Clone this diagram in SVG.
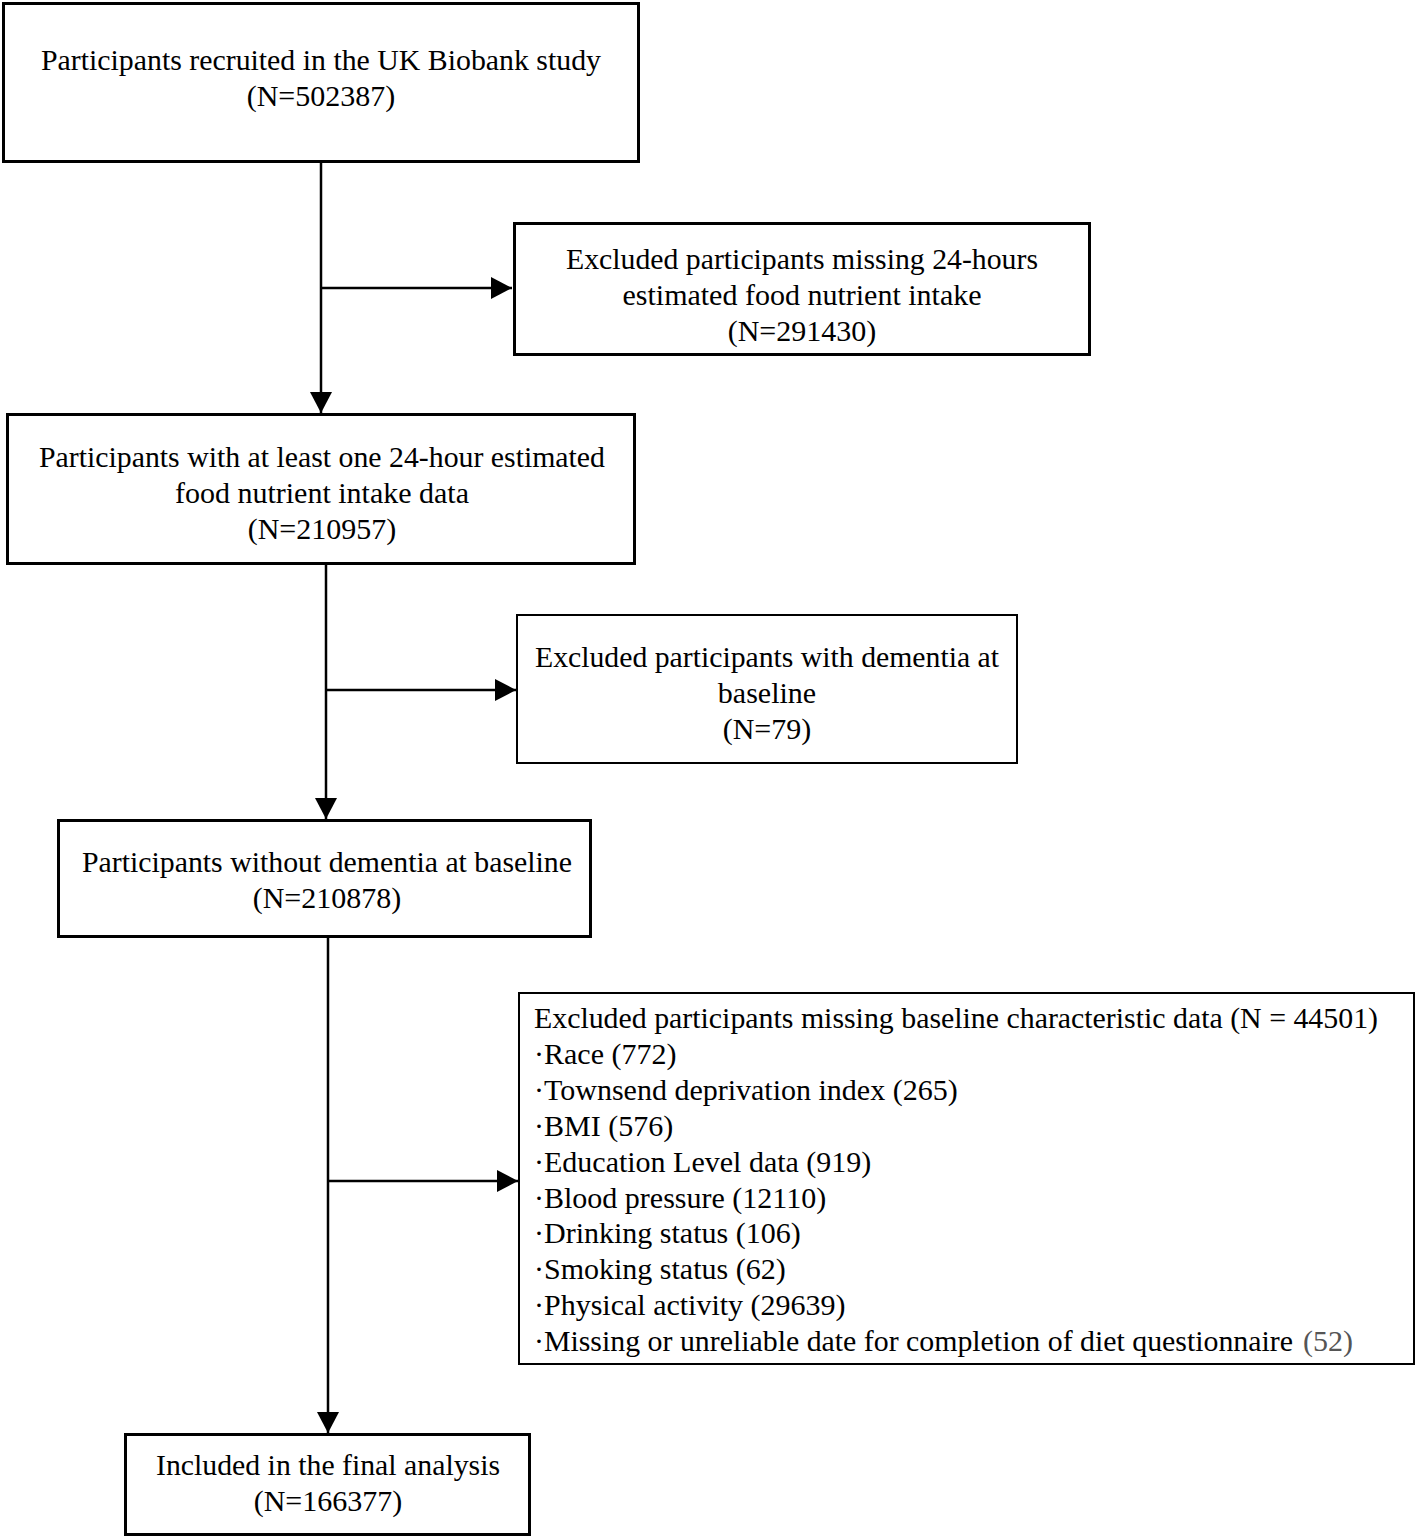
<svg xmlns="http://www.w3.org/2000/svg" width="1416" height="1539" viewBox="0 0 1416 1539">
<style>
.box{fill:#fff;stroke:#000;stroke-width:3}
.thin{stroke-width:2}
.t{font-family:"Liberation Serif","Times New Roman",serif;font-size:30px;fill:#000}
.c{text-anchor:middle}
.ln{stroke:#000;stroke-width:2.5;fill:none}
</style>
<defs>
<marker id="ah" viewBox="0 0 10 10" refX="10" refY="5" markerWidth="21" markerHeight="22" markerUnits="userSpaceOnUse" orient="auto" preserveAspectRatio="none">
<path d="M0,0 L10,5 L0,10 Z" fill="#000"/>
</marker>
</defs>
<rect width="1416" height="1539" fill="#fff"/>
<g id="connectors">
<line class="ln" x1="321" y1="162" x2="321" y2="413" marker-end="url(#ah)"/>
<line class="ln" x1="321" y1="288" x2="512" y2="288" marker-end="url(#ah)"/>
<line class="ln" x1="326" y1="564" x2="326" y2="819" marker-end="url(#ah)"/>
<line class="ln" x1="326" y1="690" x2="516" y2="690" marker-end="url(#ah)"/>
<line class="ln" x1="328" y1="937" x2="328" y2="1433" marker-end="url(#ah)"/>
<line class="ln" x1="328" y1="1181" x2="518" y2="1181" marker-end="url(#ah)"/>
</g>
<g id="n1">
<rect class="box" x="3.5" y="3.5" width="635" height="158"/>
<text class="t c" x="321" y="70" textLength="560" lengthAdjust="spacingAndGlyphs">Participants recruited in the UK Biobank study</text>
<text class="t c" x="321" y="106">(N=502387)</text>
</g>
<g id="n2">
<rect class="box" x="514.5" y="223.5" width="575" height="131"/>
<text class="t c" x="802" y="269" textLength="472" lengthAdjust="spacingAndGlyphs">Excluded participants missing 24-hours</text>
<text class="t c" x="802" y="305">estimated food nutrient intake</text>
<text class="t c" x="802" y="341">(N=291430)</text>
</g>
<g id="n3">
<rect class="box" x="7.5" y="414.5" width="627" height="149"/>
<text class="t c" x="322" y="467" textLength="566" lengthAdjust="spacingAndGlyphs">Participants with at least one 24-hour estimated</text>
<text class="t c" x="322" y="503">food nutrient intake data</text>
<text class="t c" x="322" y="539">(N=210957)</text>
</g>
<g id="n4">
<rect class="box thin" x="517" y="615" width="500" height="148"/>
<text class="t c" x="767" y="667" textLength="464" lengthAdjust="spacingAndGlyphs">Excluded participants with dementia at</text>
<text class="t c" x="767" y="703">baseline</text>
<text class="t c" x="767" y="739">(N=79)</text>
</g>
<g id="n5">
<rect class="box" x="58.5" y="820.5" width="532" height="116"/>
<text class="t c" x="327" y="872" textLength="490" lengthAdjust="spacingAndGlyphs">Participants without dementia at baseline</text>
<text class="t c" x="327" y="908">(N=210878)</text>
</g>
<g id="n6">
<rect class="box thin" x="519" y="993" width="895" height="371"/>
<text class="t" x="534" y="1028" textLength="844" lengthAdjust="spacingAndGlyphs">Excluded participants missing baseline characteristic data (N = 44501)</text>
<text class="t" x="534" y="1064">·Race (772)</text>
<text class="t" x="534" y="1100">·Townsend deprivation index (265)</text>
<text class="t" x="534" y="1136">·BMI (576)</text>
<text class="t" x="534" y="1172">·Education Level data (919)</text>
<text class="t" x="534" y="1208">·Blood pressure (12110)</text>
<text class="t" x="534" y="1243">·Drinking status (106)</text>
<text class="t" x="534" y="1279">·Smoking status (62)</text>
<text class="t" x="534" y="1315">·Physical activity (29639)</text>
<text class="t" x="534" y="1351" textLength="759" lengthAdjust="spacingAndGlyphs">·Missing or unreliable date for completion of diet questionnaire</text>
<text class="t" x="1303" y="1351" fill="#555" style="fill:#555">(52)</text>
</g>
<g id="n7">
<rect class="box" x="125.5" y="1434.5" width="404" height="100"/>
<text class="t c" x="328" y="1475" textLength="344" lengthAdjust="spacingAndGlyphs">Included in the final analysis</text>
<text class="t c" x="328" y="1511">(N=166377)</text>
</g>
</svg>
